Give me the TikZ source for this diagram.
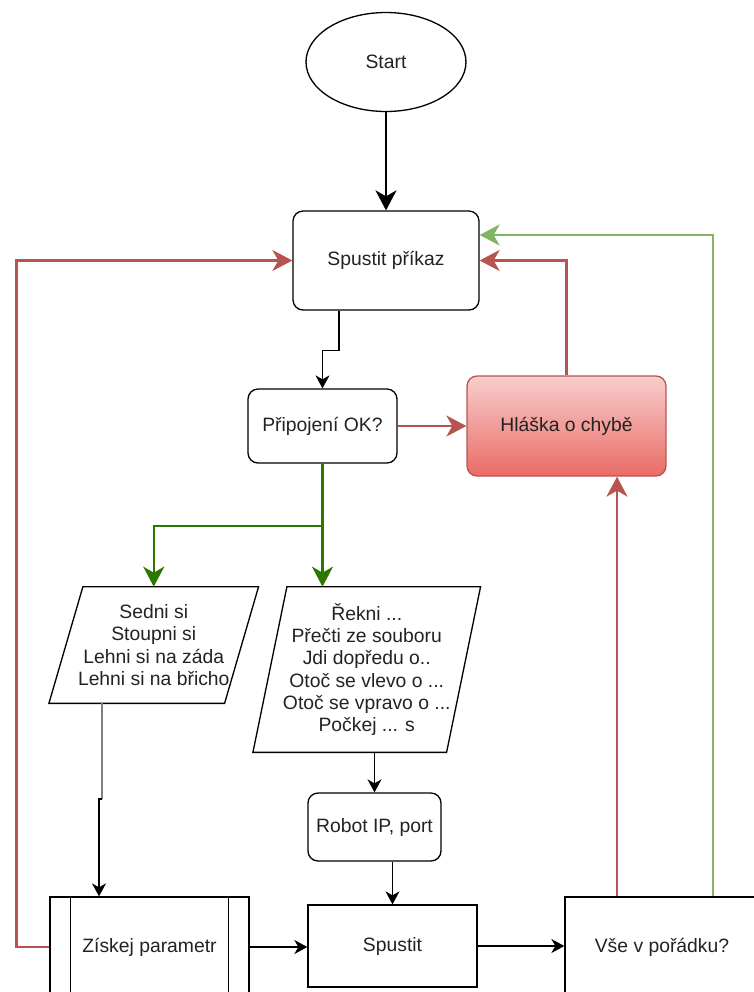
\documentclass[tikz,border=0pt]{standalone}
\usepackage{fontspec}
\setmainfont{Liberation Sans}
\usepackage{tikz}
\usetikzlibrary{shapes.geometric,arrows.meta}

\definecolor{errline}{HTML}{B85450}
\definecolor{errtop}{HTML}{F8CECC}
\definecolor{errbot}{HTML}{EA6B66}
\definecolor{okline}{HTML}{82B366}
\definecolor{yesline}{HTML}{2D7600}
\definecolor{txt}{HTML}{222222}

\begin{document}
\begin{tikzpicture}[x=0.02cm,y=-0.02cm,
  every node/.style={font=\fontsize{11}{12.7}\selectfont,text=txt,align=center,inner sep=0pt},
  box/.style={draw,line width=0.75pt,rectangle},
  roundbox/.style={box,rounded corners=0.2cm},
  slant/.style={rectangle},
  link/.style={line width=0.75pt,-{Stealth[length=0.26cm,width=0.28cm,inset=0.08cm]}},
  boldlink/.style={line width=1.4pt,-{Stealth[length=0.4cm,width=0.42cm,inset=0.12cm]}},
  redlink/.style={boldlink,draw=errline},
  greenlink/.style={boldlink,draw=okline},
  yeslink/.style={boldlink,draw=yesline}]
 \useasboundingbox (0,0) rectangle (754,992);

 \node[draw,line width=0.75pt,ellipse,minimum width=3.2cm,minimum height=1.98cm] (start) at (386,62) {Start};
 \node[roundbox,minimum width=3.72cm,minimum height=1.98cm] (cmd) at (386,260.5) {Spustit příkaz};
 \node[roundbox,minimum width=2.98cm,minimum height=1.48cm] (conn) at (322.5,426) {Připojení OK?};
 \node[roundbox,draw=errline,top color=errtop,bottom color=errbot,minimum width=3.98cm,minimum height=2cm] (err) at (566.5,426) {Hláška o chybě};
 \node[slant,minimum width=3.5cm,minimum height=2.32cm] (pose) at (153.75,645) {Sedni si\\Stoupni si\\Lehni si na záda\\Lehni si na břicho};
 \node[slant,minimum width=3.86cm,minimum height=3.3cm] (act) at (366.75,669.5) {Řekni ...\\Přečti ze souboru\\Jdi dopředu o..\\Otoč se vlevo o ...\\Otoč se vpravo o ...\\Počkej ... s};
 \node[roundbox,minimum width=2.66cm,minimum height=1.36cm] (robot) at (374.5,827) {Robot IP, port};
 \node[box,minimum width=3.98cm,minimum height=2cm] (get) at (149.5,947) {Získej parametr};
 \node[box,minimum width=3.38cm,minimum height=1.64cm] (run) at (392.5,946) {Spustit};
 \node[box,minimum width=3.88cm,minimum height=2cm] (check) at (662,947) {Vše v pořádku?};

 \draw[line width=0.75pt] ([xshift=0.34cm]pose.north west) -- ([xshift=0.34cm]pose.north east) -- ([xshift=-0.34cm]pose.south east) -- ([xshift=-0.34cm]pose.south west) -- cycle;
 \draw[line width=0.75pt] ([xshift=0.34cm]act.north west) -- ([xshift=0.34cm]act.north east) -- ([xshift=-0.34cm]act.south east) -- ([xshift=-0.34cm]act.south west) -- cycle;
 \draw[line width=0.75pt] ([xshift=0.42cm]get.north west) -- ([xshift=0.42cm]get.south west);
 \draw[line width=0.75pt] ([xshift=-0.42cm]get.north east) -- ([xshift=-0.42cm]get.south east);

 \coordinate (split) at (322.5,526);
 \coordinate (bend) at (102,799);
 \coordinate (chkred) at ([xshift=-0.9cm]check.north);
 \coordinate (chkok) at ([xshift=1.02cm]check.north);

 \draw[boldlink] (start) -- (cmd);
 \draw[link] ([xshift=-0.94cm]cmd.south) -- ++(0,-0.8cm) -| (conn.north);
 \draw[redlink] (conn) -- (err);
 \draw[redlink] (err.north) |- (cmd.east);
 \draw[yeslink] (conn.south) -- (conn.south |- act.north);
 \draw[yeslink] (split) -| (pose.north);
 \draw[line width=0.75pt,gray] (bend |- pose.south) -- (bend);
 \draw[link] (bend) -| ([xshift=-1.01cm]get.north);
 \draw[link] (robot.north |- act.south) -- (robot.north);
 \draw[link] (run.north |- robot.south) -- (run.north);
 \draw[link] (get.east) -- (get.east -| run.west);
 \draw[link] (run.east) -- (run.east -| check.west);
 \draw[redlink] (chkred) -- (chkred |- err.south);
 \draw[greenlink] (chkok) |- ([yshift=0.51cm]cmd.east);
 \draw[redlink] (get.west) -- ++(-0.66cm,0) |- (cmd.west);
\end{tikzpicture}
\end{document}
